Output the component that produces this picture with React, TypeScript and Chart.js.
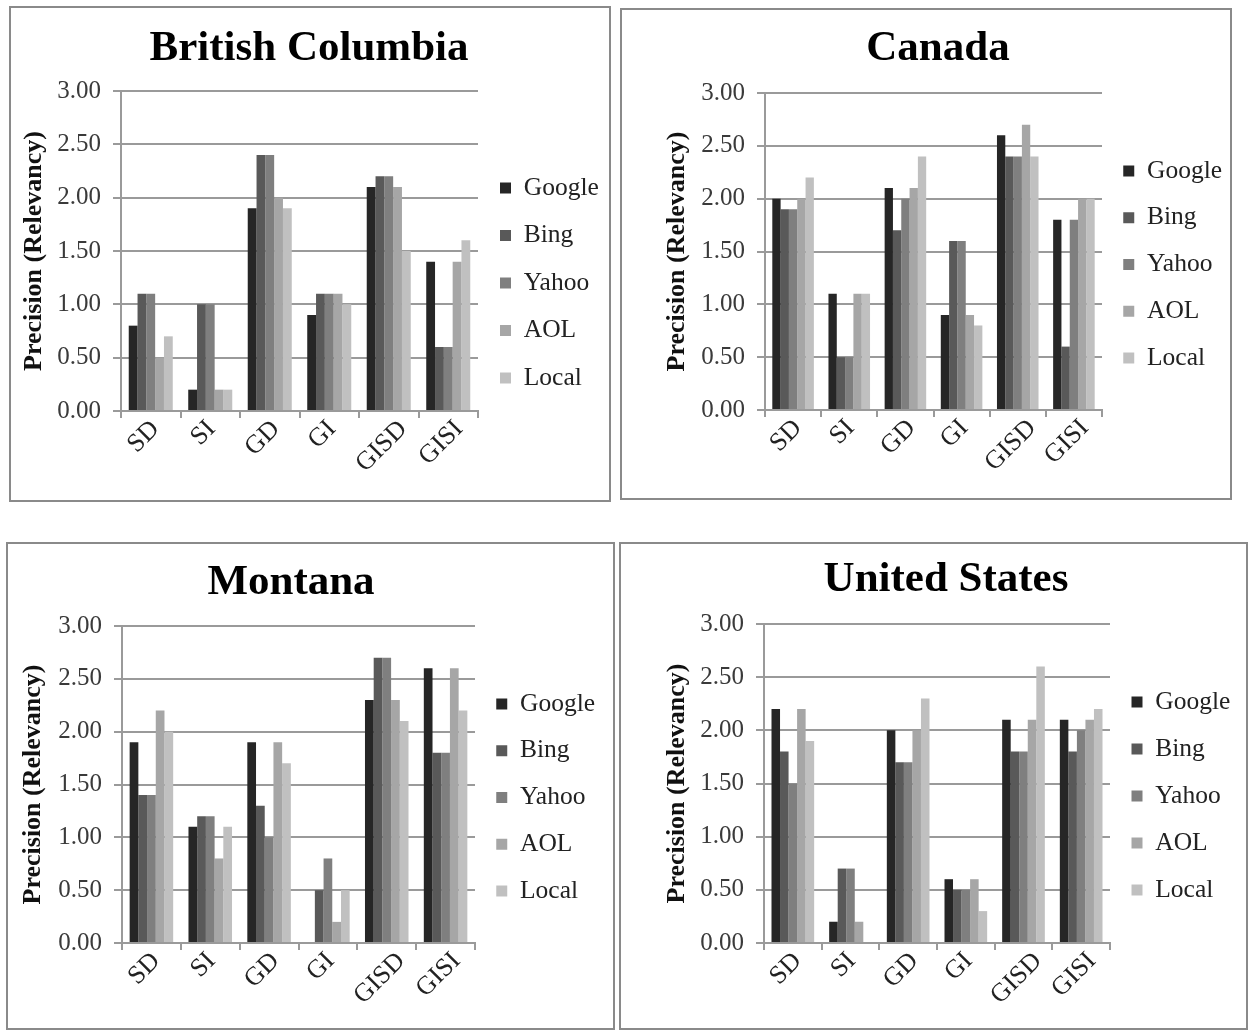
import React, { useEffect, useRef } from 'react';
import { Chart, registerables } from 'chart.js';

Chart.register(...registerables);

const FONT = "'Liberation Serif', 'Times New Roman', serif";

const categories = ['SD', 'SI', 'GD', 'GI', 'GISD', 'GISI'];
const engines = ['Google', 'Bing', 'Yahoo', 'AOL', 'Local'];
const yTickValues = [0, 0.5, 1, 1.5, 2, 2.5, 3];

// British Columbia
const bcGoogle = [0.8, 0.2, 1.9, 0.9, 2.1, 1.4];
const bcBing = [1.1, 1.0, 2.4, 1.1, 2.2, 0.6];
const bcYahoo = [1.1, 1.0, 2.4, 1.1, 2.2, 0.6];
const bcAOL = [0.5, 0.2, 2.0, 1.1, 2.1, 1.4];
const bcLocal = [0.7, 0.2, 1.9, 1.0, 1.5, 1.6];

// Canada
const caGoogle = [2.0, 1.1, 2.1, 0.9, 2.6, 1.8];
const caBing = [1.9, 0.5, 1.7, 1.6, 2.4, 0.6];
const caYahoo = [1.9, 0.5, 2.0, 1.6, 2.4, 1.8];
const caAOL = [2.0, 1.1, 2.1, 0.9, 2.7, 2.0];
const caLocal = [2.2, 1.1, 2.4, 0.8, 2.4, 2.0];

// Montana
const mtGoogle = [1.9, 1.1, 1.9, 0, 2.3, 2.6];
const mtBing = [1.4, 1.2, 1.3, 0.5, 2.7, 1.8];
const mtYahoo = [1.4, 1.2, 1.0, 0.8, 2.7, 1.8];
const mtAOL = [2.2, 0.8, 1.9, 0.2, 2.3, 2.6];
const mtLocal = [2.0, 1.1, 1.7, 0.5, 2.1, 2.2];

// United States
const usGoogle = [2.2, 0.2, 2.0, 0.6, 2.1, 2.1];
const usBing = [1.8, 0.7, 1.7, 0.5, 1.8, 1.8];
const usYahoo = [1.5, 0.7, 1.7, 0.5, 1.8, 2.0];
const usAOL = [2.2, 0.2, 2.0, 0.6, 2.1, 2.1];
const usLocal = [1.9, 0, 2.3, 0.3, 2.6, 2.2];

const engineColors = ['#262626', '#595959', '#7f7f7f', '#a6a6a6', '#c0c0c0'];
const GRID = '#9a9a9a';

type Geo = {
  box: [number, number, number, number]; // panel border box: left, top, right, bottom
  L: number; R: number; T: number; B: number; // plot area (page px)
  titleCX: number; titleCY: number;
  yTitleX: number;
  legendFirst: number; legendStep: number;
  padR: number;
};

type Spec = { title: string; series: number[][]; geo: Geo };

const panels: Spec[] = [
  {
    title: 'British Columbia',
    series: [bcGoogle, bcBing, bcYahoo, bcAOL, bcLocal],
    geo: { box: [9, 6, 611, 502], L: 121, R: 478, T: 91, B: 411, titleCX: 309, titleCY: 49, yTitleX: 34, legendFirst: 188, legendStep: 47.5, padR: 2 },
  },
  {
    title: 'Canada',
    series: [caGoogle, caBing, caYahoo, caAOL, caLocal],
    geo: { box: [620, 8, 1232, 500], L: 765, R: 1102, T: 93, B: 410, titleCX: 938, titleCY: 49, yTitleX: 677, legendFirst: 171, legendStep: 46.75, padR: 0 },
  },
  {
    title: 'Montana',
    series: [mtGoogle, mtBing, mtYahoo, mtAOL, mtLocal],
    geo: { box: [6, 542, 615, 1030], L: 122, R: 475, T: 626, B: 943, titleCX: 291, titleCY: 583, yTitleX: 33, legendFirst: 704, legendStep: 46.75, padR: 8 },
  },
  {
    title: 'United States',
    series: [usGoogle, usBing, usYahoo, usAOL, usLocal],
    geo: { box: [619, 542, 1248, 1030], L: 764, R: 1110, T: 624, B: 943, titleCX: 946, titleCY: 580, yTitleX: 677, legendFirst: 702, legendStep: 47, padR: 6 },
  },
];

const BORDER = 2;
const TITLE_SIZE = 43;
const LEGEND_SIZE = 25.5;
const YTITLE_SIZE = 26;
const TICK_SIZE = 25;
const XTICK_SIZE = 26;
const XLABEL_DX = -7;
const XLABEL_DY = 8;

// Draws the rotated category labels, centred under each category (as Excel does).
const rotatedCategoryLabels = {
  id: 'rotatedCategoryLabels',
  afterDraw(chart: any) {
    const xs = chart.scales.x;
    const ctx = chart.ctx;
    const labels: string[] = chart.data.labels;
    ctx.save();
    ctx.font = `${XTICK_SIZE}px ${FONT}`;
    ctx.fillStyle = '#222';
    ctx.textAlign = 'center';
    ctx.textBaseline = 'middle';
    labels.forEach((lab, i) => {
      const w = ctx.measureText(lab).width;
      const h = XTICK_SIZE * 0.66;
      const cx = xs.getPixelForTick(i) + XLABEL_DX;
      const cy = xs.top + XLABEL_DY + ((w + h) * Math.SQRT1_2) / 2;
      ctx.save();
      ctx.translate(cx, cy);
      ctx.rotate(-Math.PI / 4);
      ctx.fillText(lab, 0, 0);
      ctx.restore();
    });
    ctx.restore();
  },
};

function Panel({ spec }: { spec: Spec }) {
  const ref = useRef<HTMLCanvasElement | null>(null);
  const g = spec.geo;
  const x0 = g.box[0] + BORDER;
  const y0 = g.box[1] + BORDER;
  const W = g.box[2] - g.box[0] - 2 * BORDER;
  const H = g.box[3] - g.box[1] - 2 * BORDER;

  useEffect(() => {
    if (!ref.current) return;
    const padR = g.padR;
    const padL = 2 * (g.titleCX - x0) - W + padR;
    const yAxisW = g.L - x0 - padL;
    const legendW = x0 + W - padR - g.R;
    const yTitlePad = g.yTitleX - x0 - padL - YTITLE_SIZE / 2;
    const titleLH = TITLE_SIZE * 1.2;
    const titleTop = g.titleCY - y0 - titleLH / 2;
    const titleBottom = g.T - y0 - titleTop - titleLH;
    const legendPad = g.legendStep - LEGEND_SIZE;
    const legendT = g.legendFirst - y0 - legendPad - LEGEND_SIZE / 2;
    const xAxisH = y0 + H - g.B;

    const chart = new Chart(ref.current, {
      type: 'bar',
      data: {
        labels: categories,
        datasets: engines.map((name, i) => ({
          label: name,
          data: spec.series[i],
          backgroundColor: engineColors[i],
          borderWidth: 0,
          categoryPercentage: 0.74,
          barPercentage: 1.0,
        })),
      },
      plugins: [rotatedCategoryLabels],
      options: {
        animation: false,
        responsive: false,
        maintainAspectRatio: false,
        devicePixelRatio: 1,
        layout: { padding: { left: padL, right: padR, top: 0, bottom: 0 } },
        plugins: {
          tooltip: { enabled: false },
          title: {
            display: true,
            text: spec.title,
            color: '#000',
            font: { family: FONT, size: TITLE_SIZE, weight: 'bold', lineHeight: 1.2 },
            padding: { top: titleTop, bottom: titleBottom },
          },
          legend: {
            display: true,
            position: 'right',
            align: 'start',
            fullSize: true,
            maxWidth: legendW,
            title: {
              display: true,
              text: ' ',
              font: { family: FONT, size: 10, lineHeight: 1 },
              padding: { top: legendT - 10, bottom: 0 },
            },
            labels: {
              color: '#222',
              font: { family: FONT, size: LEGEND_SIZE },
              boxWidth: 11,
              boxHeight: 11,
              padding: legendPad,
            },
          },
        },
        scales: {
          x: {
            offset: true,
            afterFit: (s: any) => { s.height = xAxisH; },
            grid: {
              display: true,
              offset: true,
              drawOnChartArea: false,
              drawTicks: true,
              tickLength: 7,
              color: GRID,
              lineWidth: 2,
            },
            border: { display: true, color: GRID, width: 2 },
            ticks: { display: false, autoSkip: false },
          },
          y: {
            min: 0,
            max: 3,
            afterFit: (s: any) => { s.width = yAxisW; },
            afterBuildTicks: (s: any) => { s.ticks = yTickValues.map((v) => ({ value: v })); },
            grid: { color: GRID, lineWidth: 2, tickLength: 8, drawTicks: true },
            border: { display: true, color: GRID, width: 2 },
            ticks: {
              color: '#3a3a3a',
              font: { family: FONT, size: TICK_SIZE },
              padding: 12,
              callback: (v: any) => Number(v).toFixed(2),
            },
            title: {
              display: true,
              text: 'Precision (Relevancy)',
              color: '#111',
              font: { family: FONT, size: YTITLE_SIZE, weight: 'bold', lineHeight: 1 },
              padding: { top: yTitlePad, bottom: 0 },
            },
          },
        },
      } as any,
    });
    return () => chart.destroy();
  }, []);

  return (
    <>
      <div
        style={{
          position: 'absolute',
          left: g.box[0],
          top: g.box[1],
          width: g.box[2] - g.box[0] - 2 * BORDER,
          height: g.box[3] - g.box[1] - 2 * BORDER,
          border: `${BORDER}px solid #8a8a8a`,
          background: '#fff',
        }}
      />
      <canvas
        ref={ref}
        width={W}
        height={H}
        style={{ position: 'absolute', left: x0, top: y0, width: W, height: H }}
      />
    </>
  );
}

export default function App() {
  return (
    <div style={{ position: 'absolute', left: 0, top: 0, width: 1251, height: 1032, background: '#fff', overflow: 'hidden' }}>
      {panels.map((p) => (
        <Panel key={p.title} spec={p} />
      ))}
    </div>
  );
}
